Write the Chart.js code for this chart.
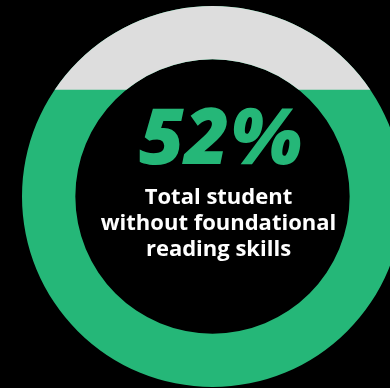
<!DOCTYPE html>
<html>
<head>
<meta charset="utf-8">
<script src="https://cdn.jsdelivr.net/npm/chart.js@4/dist/chart.umd.min.js"></script>
<style>
  html, body { margin: 0; padding: 0; background: #000; overflow: hidden; }
  #wrap { position: relative; width: 426px; height: 388px; }
</style>
</head>
<body>
<div id="wrap"><canvas id="chart-1"></canvas></div>
<script>
// headline share shown in the middle
var shareLabels = ['Without foundational reading skills'];
var shareValues = [52];
// how far up the ring the green fill reaches (fraction of ring height)
var fillLevel = [0.78];
var captionLines = ['Total student', 'without foundational', 'reading skills'];

var GREEN = '#25b778';
var GREY = '#dddddd';

// draws the grey cap above the fill line, reusing the arc the library laid out
var levelPlugin = {
    id: 'level',
    afterDatasetsDraw: function (chart) {
        var arc = chart.getDatasetMeta(0).data[0];
        if (!arc) return;
        var ctx = chart.ctx;
        var lineY = arc.y - arc.outerRadius + 2 * arc.outerRadius * (1 - fillLevel[0]);
        ctx.save();
        ctx.beginPath();
        ctx.rect(0, 0, chart.width, lineY);
        ctx.clip();
        ctx.beginPath();
        ctx.arc(arc.x, arc.y, arc.outerRadius, 0, Math.PI * 2);
        ctx.arc(arc.x, arc.y, arc.innerRadius, Math.PI * 2, 0, true);
        ctx.closePath();
        ctx.fillStyle = GREY;
        ctx.fill();
        ctx.restore();
    }
};

var centerText = {
    id: 'centerText',
    afterDraw: function (chart) {
        var arc = chart.getDatasetMeta(0).data[0];
        if (!arc) return;
        var ctx = chart.ctx;
        var cx = arc.x + 6;
        ctx.save();
        ctx.textAlign = 'center';
        ctx.textBaseline = 'alphabetic';
        ctx.fillStyle = GREEN;
        ctx.font = 'italic 800 78px "Open Sans"';
        ctx.fillText(shareValues[0] + '%', cx + 2, arc.y - 33);
        ctx.fillStyle = '#ffffff';
        ctx.font = 'bold 22px "Open Sans"';
        captionLines.forEach(function (line, i) {
            ctx.fillText(line, cx, arc.y + 7 + i * 26);
        });
        ctx.restore();
    }
};

new Chart(document.getElementById('chart-1'), {
    type: 'doughnut',
    data: {
        labels: shareLabels,
        datasets: [{
            data: [100],
            backgroundColor: GREEN,
            borderWidth: 0
        }]
    },
    options: {
        responsive: true,
        maintainAspectRatio: false,
        animation: false,
        cutout: '72%',
        layout: { padding: { top: 6, bottom: 1, left: 22, right: 23 } },
        plugins: {
            legend: { display: false },
            tooltip: { enabled: false }
        }
    },
    plugins: [levelPlugin, centerText]
});
</script>
</body>
</html>
